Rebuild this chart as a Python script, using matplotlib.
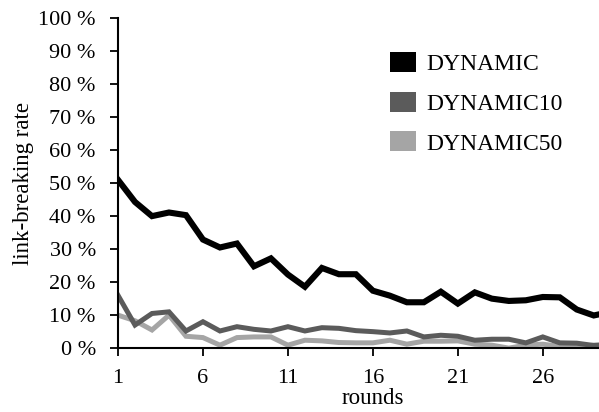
import matplotlib
matplotlib.use("Agg")
import matplotlib.pyplot as plt
from matplotlib.patches import Patch

rounds = list(range(1, 31))
dynamic = [51, 44.3, 40, 41.1, 40.3, 32.9, 30.5, 31.7, 24.8, 27.2,
           22.3, 18.6, 24.3, 22.4, 22.4, 17.4, 15.9, 13.9, 13.9, 17.1,
           13.5, 16.9, 15, 14.3, 14.5, 15.5, 15.4, 11.7, 9.9, 11]
dynamic10 = [16, 7, 10.5, 11, 5.2, 8, 5.2, 6.5, 5.7, 5.2,
             6.5, 5.2, 6.2, 6, 5.3, 5, 4.6, 5.2, 3.4, 3.9,
             3.6, 2.4, 2.7, 2.7, 1.6, 3.4, 1.6, 1.5, 0.8, 1]
dynamic50 = [10, 8.3, 5.5, 10, 3.6, 3.2, 0.9, 3.2, 3.4, 3.4,
             0.9, 2.4, 2.2, 1.7, 1.6, 1.6, 2.4, 1.2, 2.1, 2.1,
             2.2, 1.2, 0.9, 0, 0.9, 1.2, 0.5, 0.5, 0.9, 1.2]
series = ["DYNAMIC", "DYNAMIC10", "DYNAMIC50"]
colors = ["#000000", "#5b5b5b", "#a5a5a5"]
yticks = list(range(0, 101, 10))
xticks = [1, 6, 11, 16, 21, 26]

plt.rcParams['font.family'] = ['Liberation Serif', 'DejaVu Serif']

fig = plt.figure(figsize=(5.99, 4.12), dpi=100)
# the x axis runs on past the right edge of the figure (up to round 31)
ax = fig.add_axes([0.197, 0.155, 0.851, 0.801])

ax.plot(rounds, dynamic50, color=colors[2], linewidth=3.6, solid_joinstyle='miter')
ax.plot(rounds, dynamic10, color=colors[1], linewidth=3.6, solid_joinstyle='miter')
ax.plot(rounds, dynamic, color=colors[0], linewidth=4.4, solid_joinstyle='miter')

ax.set_xlim(1, 31)
ax.set_ylim(0, 100)
ax.set_xticks(xticks)
ax.set_yticks(yticks)
ax.set_yticklabels([f"{v} %" for v in yticks])
ax.tick_params(labelsize=16, direction='out', length=6, width=1.3)
ax.tick_params(axis='y', pad=10)
ax.tick_params(axis='x', pad=9)
ax.spines['top'].set_visible(False)
ax.spines['right'].set_visible(False)
ax.spines['left'].set_linewidth(1.5)
ax.spines['bottom'].set_linewidth(1.5)
ax.set_xlabel("rounds", fontsize=16.5, labelpad=0)
ax.set_ylabel("link-breaking rate", fontsize=16.5, labelpad=3)

handles = [Patch(facecolor=c, edgecolor='none') for c in colors]
fig.legend(handles, series, loc='upper left', bbox_to_anchor=(390 / 599, 1 - 52 / 412),
           frameon=False, fontsize=17, handlelength=1.1, handleheight=0.93,
           labelspacing=0.7, handletextpad=0.45, borderpad=0, borderaxespad=0)

fig.savefig("out.png", dpi=100)
